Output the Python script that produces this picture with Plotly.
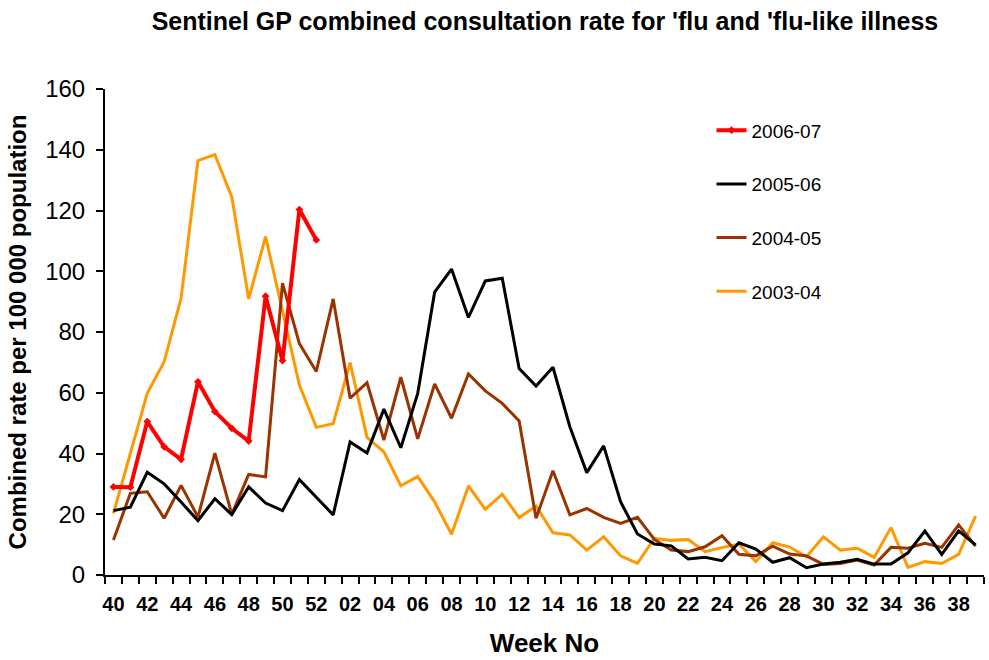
import plotly.graph_objects as go

weeks = [str(w) for w in range(40, 53)] + [f"{w:02d}" for w in range(1, 40)]
tick_text = [w if int(w) % 2 == 0 else "" for w in weeks]

s2006_07 = [29.0, 28.9, 50.5, 42.2, 38.1, 63.6, 53.8, 48.3, 44.1, 91.8, 70.6, 120.3, 110.3]

s2005_06 = [21.2, 22.3, 33.8, 30.0, 24.0, 17.9, 25.1, 19.9, 29.0, 23.7, 21.2, 31.4, 25.6,
            19.8, 43.8, 40.2, 54.6, 41.9, 59.8, 93.1, 100.7, 84.8, 96.8, 97.7, 68.0, 62.2,
            68.4, 48.8, 33.7, 42.5, 24.1, 13.5, 10.2, 9.6, 5.3, 5.8, 4.7, 10.6, 8.5, 4.2,
            5.7, 2.4, 3.6, 4.2, 5.2, 3.6, 3.6, 7.3, 14.5, 6.8, 14.5, 9.9]

s2004_05 = [11.5, 26.9, 27.4, 18.7, 29.5, 19.1, 40.1, 20.0, 33.1, 32.3, 96.1, 76.2, 67.0,
            90.9, 58.2, 63.3, 44.4, 65.1, 44.8, 62.9, 51.6, 66.2, 60.6, 56.5, 50.7, 18.7,
            34.3, 19.8, 21.9, 19.0, 17.0, 19.0, 11.7, 8.2, 7.7, 9.3, 12.9, 6.8, 6.3, 9.5,
            6.9, 6.3, 3.5, 3.8, 4.9, 3.3, 9.1, 8.8, 10.4, 9.1, 16.5, 9.5]

s2003_04 = [20.3, 40.0, 59.8, 70.2, 91.1, 136.4, 138.4, 124.5, 90.9, 111.4, 87.0, 62.5, 48.6,
            49.8, 69.9, 45.3, 40.5, 29.4, 32.4, 24.1, 13.4, 29.3, 21.6, 26.6, 18.9, 22.7,
            13.9, 13.2, 8.2, 12.6, 6.3, 3.8, 12.1, 11.4, 11.7, 7.7, 9.0, 10.2, 4.4, 10.6,
            9.2, 6.0, 12.6, 8.2, 8.8, 5.8, 15.6, 2.5, 4.4, 3.8, 6.8, 19.4]

FONT = "Liberation Sans, Arial, sans-serif"

fig = go.Figure()
fig.add_trace(go.Scatter(x=weeks, y=s2003_04, name="2003-04", mode="lines",
                         line=dict(color="#FF9900", width=3), legendgroup="d", legendrank=4))
fig.add_trace(go.Scatter(x=weeks, y=s2004_05, name="2004-05", mode="lines",
                         line=dict(color="#993300", width=3), legendgroup="c", legendrank=3))
fig.add_trace(go.Scatter(x=weeks, y=s2005_06, name="2005-06", mode="lines",
                         line=dict(color="#000000", width=3), legendgroup="b", legendrank=2))
fig.add_trace(go.Scatter(x=weeks[:len(s2006_07)], y=s2006_07, name="2006-07", mode="lines+markers",
                         line=dict(color="#FF0000", width=4),
                         marker=dict(symbol="diamond", size=6, color="#FF0000"),
                         legendgroup="a", legendrank=1))

fig.update_layout(
    width=989, height=660,
    paper_bgcolor="white", plot_bgcolor="white",
    margin=dict(l=105, r=5, t=89, b=85, autoexpand=False),
    font=dict(family=FONT, color="black"),
    title=dict(text="<b>Sentinel GP combined consultation rate for 'flu and 'flu-like illness</b>",
               font=dict(size=25, family=FONT, color="black"),
               x=0.551, xanchor="center", y=0.968, yanchor="middle"),
    showlegend=True,
    legend=dict(x=0.69, xanchor="left", y=0.954, yanchor="top",
                font=dict(size=19, family=FONT, color="black"),
                tracegroupgap=26, bgcolor="rgba(0,0,0,0)", itemwidth=30),
    xaxis=dict(type="category", categoryorder="array", categoryarray=weeks,
               range=[-0.5, len(weeks) - 0.5],
               tickmode="array", tickvals=weeks, ticktext=tick_text,
               tickson="boundaries", ticks="outside", ticklen=7, tickwidth=2, tickcolor="black",
               showline=True, linecolor="black", linewidth=2, showgrid=False, zeroline=False,
               tickfont=dict(size=20, family=FONT, color="black", weight="bold"),
               ticklabelstandoff=10, tickangle=0,
               title=dict(text="<b>Week No</b>", font=dict(size=26, family=FONT, color="black"),
                          standoff=20)),
    yaxis=dict(range=[0, 160], dtick=20, tick0=0,
               ticks="outside", ticklen=7, tickwidth=2, tickcolor="black",
               showline=True, linecolor="black", linewidth=2, showgrid=False, zeroline=False,
               tickfont=dict(size=24, family=FONT, color="black"),
               ticklabelstandoff=6,
               title=dict(text="<b>Combined rate per 100 000 population</b>",
                          font=dict(size=24, family=FONT, color="black"), standoff=12)),
)

fig.write_html("out.html", config={"displayModeBar": False},
               post_script="document.body.style.margin='0';")
